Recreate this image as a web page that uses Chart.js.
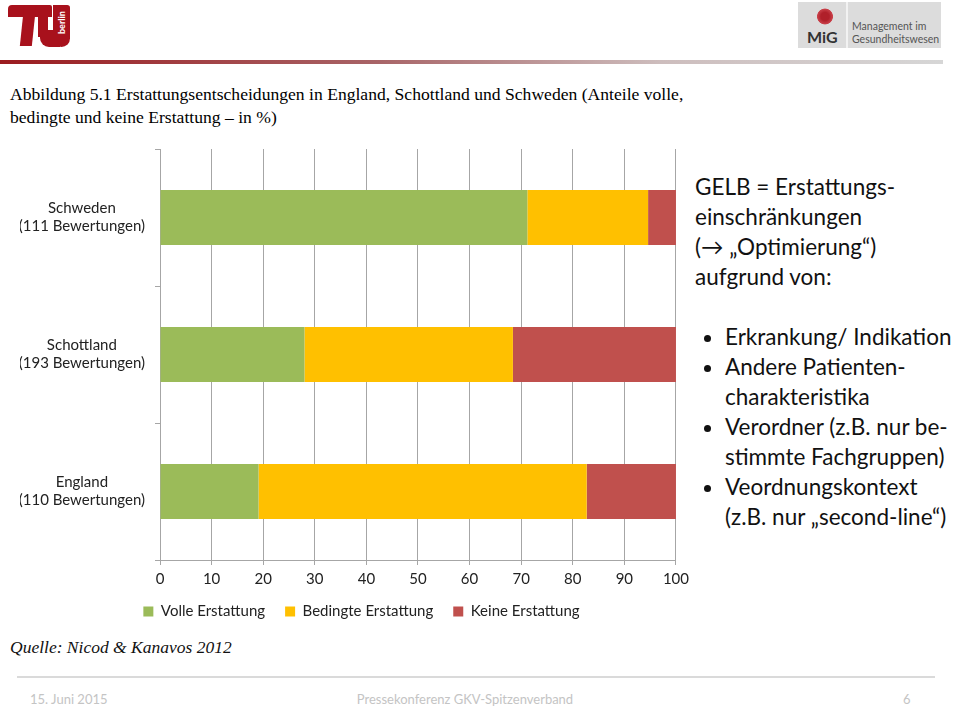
<!DOCTYPE html>
<html>
<head>
<meta charset="utf-8">
<script src="https://cdn.jsdelivr.net/npm/chart.js@4"></script>
<style>
  body { margin: 0; width: 960px; height: 710px; background: #fff; position: relative; overflow: hidden; font-family: Lato, "Liberation Sans", sans-serif; }
  .abs { position: absolute; }
  #chartBox { left: 0; top: 121px; width: 694px; height: 508px; }
  .title { left: 10px; top: 83px; font-family: "Liberation Serif", serif; font-size: 17.6px; line-height: 23px; color: #000; }
  .source { left: 10px; top: 637px; font-family: "Liberation Serif", serif; font-style: italic; font-size: 17.5px; color: #111; }
  .note { left: 695px; top: 172px; font-size: 22.5px; line-height: 30px; color: #111; }
  .note ul { margin: 30px 0 0 0; padding: 0 0 0 30px; }
  .topline { left: 0; top: 60px; width: 943px; height: 4px; background: linear-gradient(to right, #9b1b1f 0%, #a86467 40%, #cdbdbd 70%, #d6d6d6 100%); }
  .footline { left: 17px; top: 676px; width: 918px; height: 2px; background: #dadada; }
  .foot { top: 691px; font-size: 13px; color: #c4c4c4; }
  .mig { left: 798px; top: 2px; width: 143px; height: 46px; background: #dcdcdc; }
</style>
</head>
<body>
<!-- TU logo -->
<div class="abs" style="left:8px;top:5px;width:44px;height:12px;background:#a8111c;border-radius:4px 2px 0 0"></div>
<div class="abs" style="left:22px;top:5px;width:12px;height:41px;background:#a8111c;transform:skewX(-6deg)"></div>
<div class="abs" style="left:38px;top:5px;width:10px;height:32px;background:#a8111c"></div>
<div class="abs" style="left:53px;top:5px;width:17px;height:42px;background:#a8111c;border-radius:0 3px 9px 9px"></div>
<div class="abs" style="left:40px;top:30px;width:20px;height:17px;background:#a8111c;border-radius:0 0 0 9px"></div>
<div class="abs" style="left:56px;top:34px;font-size:9px;font-weight:bold;color:#fff;transform:rotate(-90deg);transform-origin:left top">berlin</div>

<!-- MiG logo -->
<div class="abs mig"></div>
<div class="abs" style="left:846px;top:2px;width:2px;height:46px;background:#f2f2f2"></div>
<div class="abs" style="left:815px;top:7px;width:20px;height:19px;background:radial-gradient(circle,#b0202a 30%,#c9414a 55%,transparent 60%)"></div>
<div class="abs" style="left:807px;top:27px;font-size:16px;font-weight:bold;color:#333">MiG</div>
<div class="abs" style="left:852px;top:20px;font-size:10.5px;line-height:13px;color:#555">Management im<br>Gesundheitswesen</div>

<div class="abs topline"></div>
<div class="abs title">Abbildung 5.1 Erstattungsentscheidungen in England, Schottland und Schweden (Anteile volle,<br>bedingte und keine Erstattung – in %)</div>

<div class="abs" id="chartBox"><canvas id="chart"></canvas></div>

<div class="abs note">
  GELB = Erstattungs-<br>einschränkungen<br>(&#8594; „Optimierung“)<br>aufgrund von:
  <ul>
    <li>Erkrankung/ Indikation</li>
    <li>Andere Patienten-<br>charakteristika</li>
    <li>Verordner (z.B. nur be-<br>stimmte Fachgruppen)</li>
    <li>Veordnungskontext<br>(z.B. nur „second-line“)</li>
  </ul>
</div>

<div class="abs source">Quelle: Nicod &amp; Kanavos 2012</div>
<div class="abs footline"></div>
<div class="abs foot" style="left:30px">15. Juni 2015</div>
<div class="abs foot" style="left:0;width:930px;text-align:center">Pressekonferenz GKV-Spitzenverband</div>
<div class="abs foot" style="left:903px">6</div>

<script>
const countries = [["Schweden", "(111 Bewertungen)"], ["Schottland", "(193 Bewertungen)"], ["England", "(110 Bewertungen)"]];
const volle = [71.2, 28.0, 19.1];
const bedingte = [23.4, 40.4, 63.6];
const keine = [5.4, 31.6, 17.3];
const seriesNames = ["Volle Erstattung", "Bedingte Erstattung", "Keine Erstattung"];
const seriesColors = ["#9bbb59", "#ffc000", "#c0504d"];
const xTicks = [0, 10, 20, 30, 40, 50, 60, 70, 80, 90, 100];

const values = [volle, bedingte, keine];
const gridGray = "#a6a6a6";
const textFont = { family: "Lato", size: 15 };

// legend box is centred on the whole slide column in the original, nudge it right
const legendShift = {
    id: "legendShift",
    afterLayout(chart) { chart.legend.left += 23; }
};

new Chart(document.getElementById("chart"), {
    type: "bar",
    data: {
        labels: countries,
        datasets: values.map((v, i) => ({
            label: seriesNames[i],
            data: v,
            backgroundColor: seriesColors[i],
            borderWidth: 0,
            barPercentage: 0.4,
            categoryPercentage: 1
        }))
    },
    options: {
        indexAxis: "y",
        responsive: true,
        maintainAspectRatio: false,
        animation: false,
        layout: { padding: { left: 20, right: 14, top: 13, bottom: 0 } },
        scales: {
            x: {
                stacked: true,
                min: 0,
                max: 100,
                afterBuildTicks: s => { s.ticks = xTicks.map(v => ({ value: v })); },
                afterFit: s => { s.height = 24; },
                grid: { color: gridGray, tickLength: 5 },
                border: { color: gridGray },
                ticks: { color: "#222", padding: 5, font: textFont }
            },
            y: {
                stacked: true,
                afterFit: s => { s.width = 140; },
                grid: { drawOnChartArea: false, color: gridGray, tickLength: 5 },
                border: { color: gridGray },
                ticks: { color: "#222", crossAlign: "center", padding: 10, font: textFont }
            }
        },
        plugins: {
            tooltip: { enabled: false },
            legend: {
                position: "bottom",
                labels: { boxWidth: 10, boxHeight: 10, padding: 20, color: "#222", font: textFont }
            }
        }
    },
    plugins: [legendShift]
});
</script>
</body>
</html>
